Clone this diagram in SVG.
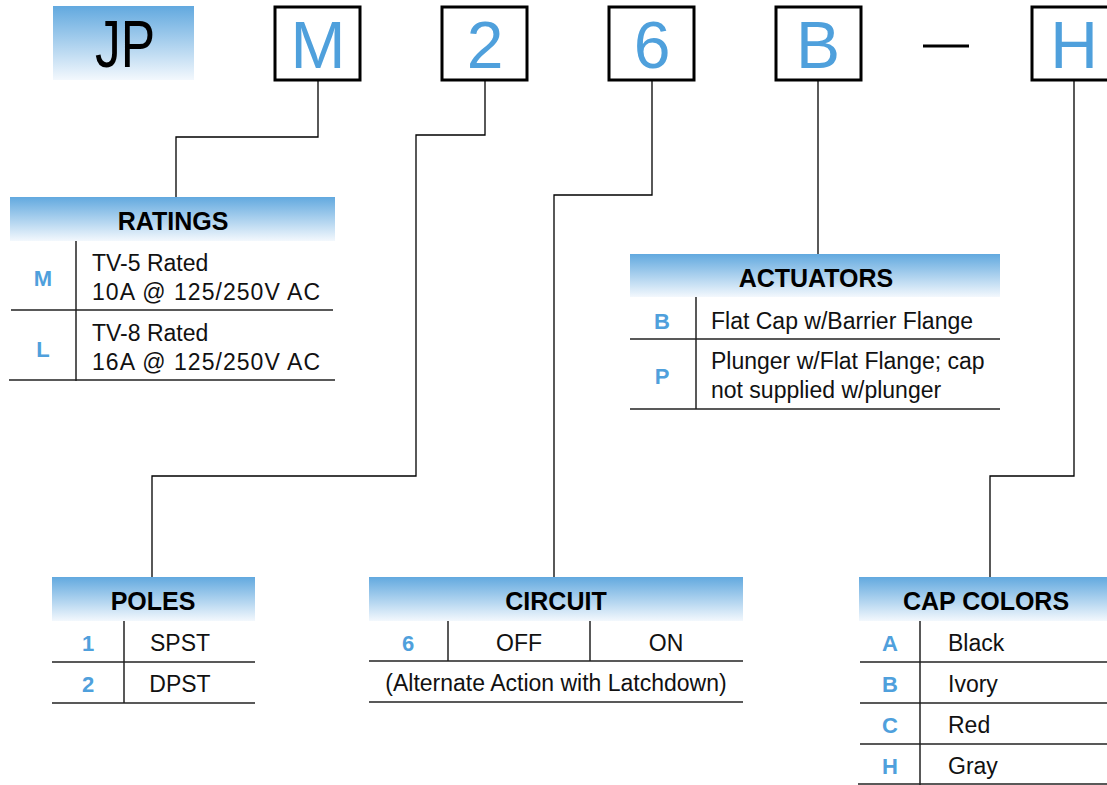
<svg xmlns="http://www.w3.org/2000/svg" width="1107" height="785" viewBox="0 0 1107 785">
<defs>
<linearGradient id="hg" x1="0" y1="0" x2="0" y2="1">
<stop offset="0" stop-color="#62a9df"/>
<stop offset="1" stop-color="#f3f8fd"/>
</linearGradient>
<style>
.hdr{fill:url(#hg)}
.code{fill:#fff;stroke:#000;stroke-width:3}
.cl{font-family:"Liberation Sans",Arial,sans-serif;font-size:66px;fill:#4fa0dc;text-anchor:middle}
.ht{font-family:"Liberation Sans",Arial,sans-serif;font-size:25px;font-weight:bold;fill:#000;text-anchor:middle}
.bt{font-family:"Liberation Sans",Arial,sans-serif;font-size:23px;fill:#111}
.bc{text-anchor:middle}
.key{font-family:"Liberation Sans",Arial,sans-serif;font-size:22px;font-weight:bold;fill:#4fa0dc;text-anchor:middle}
.ln{stroke:#222;stroke-width:1.5;fill:none}
.cn{stroke:#000;stroke-width:1.3;fill:none}
</style>
</defs>
<rect width="1107" height="785" fill="#fff"/>

<g id="connectors">
<polyline class="cn" points="318,80 318,137 176,137 176,197"/>
<polyline class="cn" points="485,80 485,135 416,135 416,476 152,476 152,577"/>
<polyline class="cn" points="652,80 652,195 554,195 554,577"/>
<polyline class="cn" points="818,80 818,254"/>
<polyline class="cn" points="1074,80 1074,476 990,476 990,577"/>
</g>

<g id="jp">
<rect class="hdr" x="53" y="6" width="141" height="74"/>
<text x="95" y="67" font-family="Liberation Sans,Arial,sans-serif" font-size="66" fill="#000" textLength="60" lengthAdjust="spacingAndGlyphs">JP</text>
</g>
<g id="code-m"><rect class="code" x="275" y="7" width="85" height="73"/><text class="cl" x="318" y="68">M</text></g>
<g id="code-2"><rect class="code" x="442" y="7" width="85" height="73"/><text class="cl" x="485" y="68">2</text></g>
<g id="code-6"><rect class="code" x="609" y="7" width="85" height="73"/><text class="cl" x="652" y="68">6</text></g>
<g id="code-b"><rect class="code" x="776" y="7" width="85" height="73"/><text class="cl" x="818" y="68">B</text></g>
<g id="dash"><line x1="923" y1="46" x2="969" y2="46" stroke="#000" stroke-width="3"/></g>
<g id="code-h"><rect class="code" x="1032" y="7" width="85" height="73"/><text class="cl" x="1074" y="68">H</text></g>

<g id="ratings">
<rect class="hdr" x="10" y="197" width="325" height="44"/>
<text class="ht" x="173" y="230">RATINGS</text>
<line class="ln" x1="76" y1="241" x2="76" y2="381"/>
<line class="ln" x1="11" y1="310" x2="333" y2="310"/>
<line class="ln" x1="9" y1="380" x2="335" y2="380"/>
<text class="key" x="43" y="286">M</text>
<text class="bt" x="92" y="271">TV-5 Rated</text>
<text class="bt" x="92" y="300" textLength="228">10A @ 125/250V AC</text>
<text class="key" x="43" y="357">L</text>
<text class="bt" x="92" y="341">TV-8 Rated</text>
<text class="bt" x="92" y="370" textLength="228">16A @ 125/250V AC</text>
</g>

<g id="actuators">
<rect class="hdr" x="630" y="254" width="370" height="43"/>
<text class="ht" x="816" y="287">ACTUATORS</text>
<line class="ln" x1="696" y1="297" x2="696" y2="409"/>
<line class="ln" x1="630" y1="339" x2="1000" y2="339"/>
<line class="ln" x1="630" y1="409" x2="1000" y2="409"/>
<text class="key" x="662" y="329">B</text>
<text class="bt" x="711" y="329">Flat Cap w/Barrier Flange</text>
<text class="key" x="662" y="384">P</text>
<text class="bt" x="711" y="369">Plunger w/Flat Flange; cap</text>
<text class="bt" x="711" y="398">not supplied w/plunger</text>
</g>

<g id="poles">
<rect class="hdr" x="52" y="577" width="203" height="44"/>
<text class="ht" x="153" y="610">POLES</text>
<line class="ln" x1="124" y1="621" x2="124" y2="703"/>
<line class="ln" x1="52" y1="662" x2="255" y2="662"/>
<line class="ln" x1="52" y1="703" x2="255" y2="703"/>
<text class="key" x="88" y="651">1</text>
<text class="bt bc" x="180" y="651">SPST</text>
<text class="key" x="88" y="692">2</text>
<text class="bt bc" x="180" y="692">DPST</text>
</g>

<g id="circuit">
<rect class="hdr" x="369" y="577" width="374" height="44"/>
<text class="ht" x="556" y="610">CIRCUIT</text>
<line class="ln" x1="448" y1="621" x2="448" y2="661"/>
<line class="ln" x1="590" y1="621" x2="590" y2="661"/>
<line class="ln" x1="369" y1="661" x2="743" y2="661"/>
<line class="ln" x1="369" y1="702" x2="743" y2="702"/>
<text class="key" x="408" y="651">6</text>
<text class="bt bc" x="519" y="651">OFF</text>
<text class="bt bc" x="666" y="651">ON</text>
<text class="bt bc" x="556" y="691">(Alternate Action with Latchdown)</text>
</g>

<g id="cap-colors">
<rect class="hdr" x="859" y="577" width="248" height="44"/>
<text class="ht" x="986" y="610">CAP COLORS</text>
<line class="ln" x1="920" y1="621" x2="920" y2="785"/>
<line class="ln" x1="860" y1="662" x2="1107" y2="662"/>
<line class="ln" x1="860" y1="703" x2="1107" y2="703"/>
<line class="ln" x1="860" y1="744" x2="1107" y2="744"/>
<line class="ln" x1="858" y1="784" x2="1107" y2="784"/>
<text class="key" x="890" y="651">A</text>
<text class="bt" x="948" y="651">Black</text>
<text class="key" x="890" y="692">B</text>
<text class="bt" x="948" y="692">Ivory</text>
<text class="key" x="890" y="733">C</text>
<text class="bt" x="948" y="733">Red</text>
<text class="key" x="890" y="774">H</text>
<text class="bt" x="948" y="774">Gray</text>
</g>
</svg>
